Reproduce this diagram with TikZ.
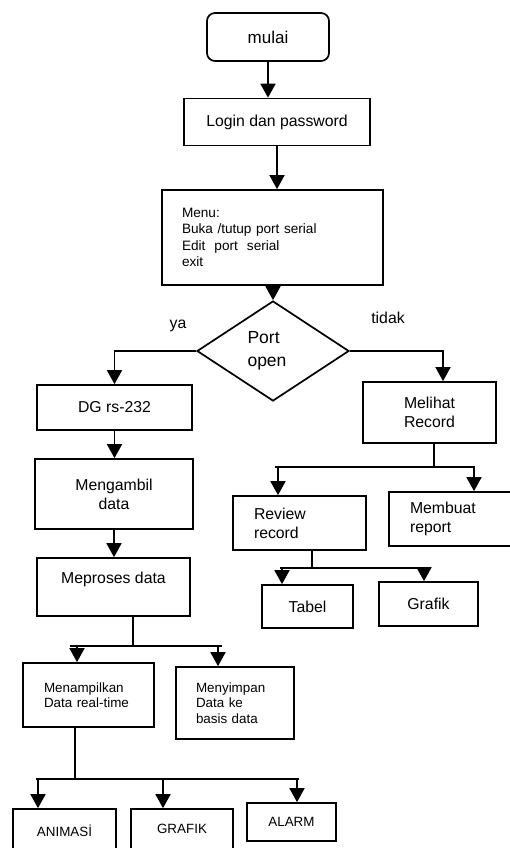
\documentclass[tikz,border=0pt]{standalone}
\usepackage{fontspec}
\setmainfont{Liberation Sans}
\usetikzlibrary{shapes.geometric,arrows.meta}

\begin{document}
\begin{tikzpicture}[x=1pt, y=-1pt, line width=1.7pt,
    every node/.style={font=\fontsize{15.8}{19}\selectfont},
    box/.style={draw, rectangle, inner sep=0pt},
    small/.style={font=\fontsize{13.4}{15.5}\selectfont},
    arr/.style={-{Triangle[width=15pt,length=14pt]}}]
    \useasboundingbox (0,0) rectangle (510,848);
    \clip (0,0) rectangle (510,848);

    % Start, login and menu
    \node[box, rounded corners=8pt, minimum width=122, minimum height=48,
        font=\fontsize{17}{20}\selectfont] (mulai) at (268,37) {mulai};
    \node[box, minimum width=186, minimum height=47] (login) at (277,122) {Login dan password};
    \node[box, small, minimum height=95, text width=181, inner xsep=20, align=left,
        font=\fontsize{13.6}{16.3}\selectfont] (menu) at (272.5,237.5)
        {Menu:\\Buka /tutup port serial\\Edit\ \ port\ \ serial\\exit};

    % Decision
    \node[draw, diamond, inner sep=0pt, minimum width=152, minimum height=100, align=left,
        font=\fontsize{17.5}{23}\selectfont] (port) at (273,351) {\hspace*{-12pt}Port\\\hspace*{-12pt}open};
    \node (ya) at (178,326) {ya};
    \node (tidak) at (388,318) {tidak};

    % Left branch
    \node[box, minimum width=155, minimum height=45] (dg) at (114.5,407.5) {DG rs-232};
    \node[box, minimum width=158, minimum height=70, align=center] (ambil) at (114,494) {Mengambil\\data};
    \node[box, minimum width=153, minimum height=58, text depth=19pt] (proses) at (113.5,587) {Meproses data};
    \node[box, small, minimum width=131, minimum height=64, text width=89, inner xsep=21,
        align=left] (tampil) at (88.5,695) {Menampilkan\\Data real-time};
    \node[box, small, minimum width=118, minimum height=72, text width=78, inner xsep=20,
        align=left] (simpan) at (235,703) {Menyimpan\\Data ke\\basis data};
    \node[box, small, minimum width=103, minimum height=44] (animasi) at (64.5,831) {ANIMASİ};
    \node[box, small, minimum width=102, minimum height=40] (grafikA) at (182,829) {GRAFIK};
    \node[box, small, minimum width=89, minimum height=38] (alarm) at (291.5,822) {ALARM};

    % Right branch
    \node[box, minimum width=133, minimum height=61, align=center] (lihat) at (429.5,412.5) {Melihat\\Record};
    \node[box, minimum width=133, minimum height=54, text width=91, inner xsep=21,
        align=left] (review) at (299.5,523) {Review\\record};
    \node[box, minimum width=134, minimum height=54, text width=92, inner xsep=21,
        align=left] (laporan) at (456,519) {Membuat\\report};
    \node[box, minimum width=91, minimum height=43] (tabel) at (307.5,606.5) {Tabel};
    \node[box, minimum width=99, minimum height=44] (grafikB) at (428.5,604) {Grafik};

    % Main flow
    \draw[arr] (mulai.south) -- (mulai.south |- login.north);
    \draw[arr] (login.south) -- (login.south |- menu.north);
    \draw[arr] (port.north |- menu.south) -- (port.north);
    \draw[arr] (port.west) -| (dg.north);
    \draw[arr] (port.east) -| ([xshift=13.5]lihat.north);
    \draw[arr] (dg.south) -- (dg.south |- ambil.north);
    \draw[arr] (ambil.south) -- (ambil.south |- proses.north);

    % Split below Meproses data
    \coordinate (s1) at (133,646);
    \coordinate (s1a) at (77,646);
    \coordinate (s1b) at (218,646);
    \draw (proses.south -| s1) -- (s1);
    \draw ([xshift=-7]s1a) -- ([xshift=4]s1b);
    \draw[arr] (s1a) -- (s1a |- tampil.north);
    \draw[arr] (s1b) -- (s1b |- simpan.north);

    % Split below Menampilkan
    \coordinate (s2) at (75,779);
    \coordinate (s2a) at (38,779);
    \coordinate (s2b) at (163,779);
    \coordinate (s2c) at (297,779);
    \draw (tampil.south -| s2) -- (s2);
    \draw ([xshift=-2]s2a) -- ([xshift=2]s2c);
    \draw[arr] (s2a) -- (s2a |- animasi.north);
    \draw[arr] (s2b) -- (s2b |- grafikA.north);
    \draw[arr] (s2c) -- (s2c |- alarm.north);

    % Split below Melihat Record
    \coordinate (s3) at (434,467);
    \coordinate (s3a) at (278,467);
    \coordinate (s3b) at (474,467);
    \draw (lihat.south -| s3) -- (s3);
    \draw ([xshift=-3]s3a) -- ([xshift=1]s3b);
    \draw[arr] (s3a) -- (s3a |- review.north);
    \draw[arr] (s3b) -- (s3b |- laporan.north);

    % Split below Review record
    \coordinate (s4) at (312,568);
    \coordinate (s4a) at (282,568);
    \coordinate (s4b) at (424,568);
    \draw (review.south -| s4) -- (s4);
    \draw ([xshift=-2]s4a) -- ([xshift=1]s4b);
    \draw[arr] (s4a) -- (s4a |- tabel.north);
    \draw[arr] (s4b) -- (s4b |- grafikB.north);
\end{tikzpicture}
\end{document}
